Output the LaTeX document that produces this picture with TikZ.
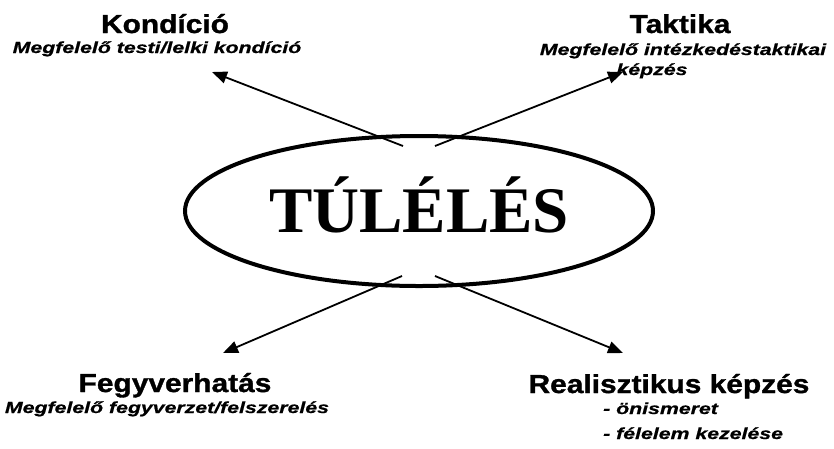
\documentclass[tikz,border=0pt]{standalone}
\usepackage{fontspec}
\setmainfont{Liberation Sans}
\newfontfamily\serifbig{Liberation Serif}
\newfontfamily\headfont[FakeStretch=1.15,FakeBold=1.2]{Liberation Sans Bold}
\newfontfamily\subfont[FakeStretch=1.33,FakeBold=0.8]{Liberation Sans Bold Italic}
\usepackage{tikz}
\usetikzlibrary{shapes.geometric,arrows.meta}

\begin{document}
\begin{tikzpicture}[x=1pt,y=-1pt,
	title/.style={anchor=base, inner sep=0pt, font=\headfont\fontsize{26}{30}\selectfont},
	sub/.style={anchor=base, inner sep=0pt, font=\subfont\fontsize{16}{20}\selectfont},
	arr/.style={line width=1.8pt, -{Triangle[length=15pt,width=12pt]}}]

	\useasboundingbox (0,0) rectangle (834,448);

	\node[ellipse, draw, line width=4pt, minimum width=468pt, minimum height=150pt, inner sep=0pt,
		text height=43pt, text depth=0pt, font=\serifbig\fontsize{65}{70}\selectfont\bfseries] (core) at (419,211) {TÚLÉLÉS};

	\node[title] (kond) at (165,33) {Kondíció};
	\node[sub] (kondsub) at (157,53) {Megfelelő testi/lelki kondíció};
	\node[title] (takt) at (680,33) {Taktika};
	\node[sub] (taktsub) at (683,55) {Megfelelő intézkedéstaktikai};
	\node[sub] (taktsub2) at (652,75) {képzés};
	\node[title] (fegy) at (175,392) {Fegyverhatás};
	\node[sub] (fegysub) at (167,413) {Megfelelő fegyverzet/felszerelés};
	\node[title] (real) at (669,393) {Realisztikus képzés};
	\node[sub, anchor=base west] (realsub) at (603,414) {- önismeret};
	\node[sub, anchor=base west] (realsub2) at (603,439) {- félelem kezelése};

	\coordinate (tipkond) at (212,72);
	\coordinate (tiptakt) at (623,72);
	\coordinate (tipfegy) at (223,353);
	\coordinate (tipreal) at (623,353);

	\draw[arr] ([xshift=-16pt,yshift=-12pt]core.north) -- (tipkond);
	\draw[arr] ([xshift=16pt,yshift=-12pt]core.north) -- (tiptakt);
	\draw[arr] ([xshift=-17pt,yshift=12pt]core.south) -- (tipfegy);
	\draw[arr] ([xshift=16pt,yshift=12pt]core.south) -- (tipreal);

\end{tikzpicture}
\end{document}
